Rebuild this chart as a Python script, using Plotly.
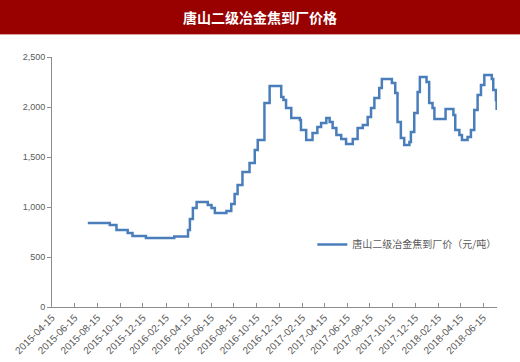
import plotly.graph_objects as go

# Change points of the step series (date, price yuan/ton)
dates = [
    "2015-07-20", "2015-09-17", "2015-10-05", "2015-11-04", "2015-11-17", "2015-12-23",
    "2016-03-08", "2016-04-14", "2016-04-19", "2016-04-27", "2016-05-07", "2016-06-06",
    "2016-06-16", "2016-06-25", "2016-07-26", "2016-08-08", "2016-08-17", "2016-08-25",
    "2016-09-07", "2016-09-26", "2016-10-10", "2016-10-18", "2016-11-05", "2016-11-19",
    "2016-12-20", "2016-12-26", "2017-01-02", "2017-01-16", "2017-02-08", "2017-02-11",
    "2017-02-25", "2017-03-14", "2017-03-27", "2017-04-06", "2017-04-20", "2017-04-29",
    "2017-05-07", "2017-05-17", "2017-05-30", "2017-06-12", "2017-06-30", "2017-07-13",
    "2017-07-27", "2017-08-09", "2017-08-18", "2017-08-27", "2017-09-09", "2017-09-16",
    "2017-10-13", "2017-10-22", "2017-10-28", "2017-11-06", "2017-11-15", "2017-11-29",
    "2017-12-03", "2017-12-12", "2017-12-21", "2017-12-27", "2018-01-14", "2018-01-21",
    "2018-01-30", "2018-02-04", "2018-03-06", "2018-03-27", "2018-04-01", "2018-04-12",
    "2018-04-19", "2018-05-04", "2018-05-13", "2018-05-22", "2018-05-31", "2018-06-09",
    "2018-06-18", "2018-07-08", "2018-07-12", "2018-07-19", "2018-07-21",
]
prices = [
    840, 820, 770, 740, 710, 690,
    705, 770, 880, 990, 1050, 1020,
    990, 940, 960, 1030, 1130, 1220,
    1350, 1440, 1570, 1670, 2040, 2210,
    2100, 2070, 1990, 1890, 1870, 1770,
    1670, 1740, 1800, 1840, 1890, 1850,
    1790, 1720, 1680, 1630, 1680, 1790,
    1820, 1900, 1990, 2090, 2190, 2280,
    2240, 2140, 1850, 1690, 1620, 1650,
    1750, 1940, 2150, 2300, 2250, 2040,
    1990, 1880, 1980, 1920, 1770, 1720,
    1670, 1700, 1770, 1970, 2120, 2220,
    2320, 2280, 2170, 2070, 1970,
]

tick_dates = [
    "2015-04-15", "2015-06-15", "2015-08-15", "2015-10-15", "2015-12-15",
    "2016-02-15", "2016-04-15", "2016-06-15", "2016-08-15", "2016-10-15",
    "2016-12-15", "2017-02-15", "2017-04-15", "2017-06-15", "2017-08-15",
    "2017-10-15", "2017-12-15", "2018-02-15", "2018-04-15", "2018-06-15",
]
y_ticks = [0, 500, 1000, 1500, 2000, 2500]

title_text = "唐山二级冶金焦到厂价格"
series_name = "唐山二级冶金焦到厂价（元/吨）"

GRAY = "#595959"
AXIS = "#8c8c8c"
CJK = "Noto Sans CJK SC"

fig = go.Figure()
fig.add_trace(go.Scatter(
    x=dates, y=prices, mode="lines", name=series_name,
    line=dict(color="#4a7ebb", width=2.5, shape="hv"),
))

fig.update_layout(
    width=520, height=362,
    margin=dict(l=52, r=23, t=57, b=55),
    paper_bgcolor="white", plot_bgcolor="white",
    showlegend=True,
    legend=dict(x=0.585, y=0.25, xanchor="left", yanchor="middle",
                font=dict(family=CJK, size=10, color=GRAY),
                bgcolor="rgba(0,0,0,0)", itemwidth=30),
    shapes=[dict(type="rect", xref="paper", yref="paper",
                 x0=-0.12, x1=1.06, y0=1.092, y1=1.24,
                 fillcolor="#990000", line=dict(width=0), layer="below"),
            dict(type="line", xref="paper", yref="paper",
                 x0=-0.12, x1=1.06, y0=1.090, y1=1.090,
                 line=dict(color="#d9a0a0", width=1))],
    annotations=[dict(text="<b>" + title_text + "</b>", xref="paper", yref="paper",
                      x=0.4674, y=1.16, xanchor="center", yanchor="middle",
                      showarrow=False, font=dict(family=CJK, size=14, color="white"))],
)

fig.update_xaxes(
    type="date", range=["2015-04-15", "2018-07-22"], automargin=False,
    tickvals=tick_dates, ticktext=tick_dates, tickangle=-45,
    ticks="inside", ticklen=4, tickcolor=AXIS,
    showline=True, linecolor=AXIS, linewidth=1, showgrid=False, zeroline=False,
    tickfont=dict(family="Liberation Sans", size=10, color=GRAY),
)
fig.update_yaxes(
    range=[0, 2500], tickvals=y_ticks, tickformat=",d", automargin=False,
    ticks="outside", ticklen=4, tickcolor=AXIS,
    showline=True, linecolor=AXIS, linewidth=1, showgrid=False, zeroline=False,
    tickfont=dict(family="Liberation Sans", size=9, color=GRAY),
)

fig.write_html(
    "out.html",
    config={"displayModeBar": False, "staticPlot": True},
    post_script="document.body.style.margin='0';document.body.style.overflow='hidden';",
)
